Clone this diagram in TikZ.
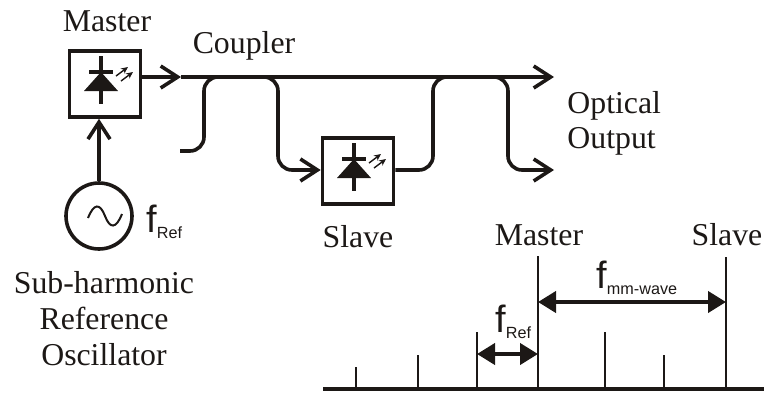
\documentclass[tikz,border=0pt]{standalone}
\usepackage{fontspec}
\setmainfont{Liberation Serif}
\newfontfamily\lblsans{Liberation Sans}
\usetikzlibrary{arrows.meta,positioning,calc}
\definecolor{ink}{RGB}{28,24,22}
\tikzset{
  lbl/.style={font=\fontsize{15.9}{18}\selectfont,text=ink,inner sep=0pt,anchor=base},
  frq/.style={text=ink,inner sep=0pt,anchor=base west},
  laser/.style={draw=ink,line width=1.8pt,minimum width=35.5pt,minimum height=33pt,inner sep=0pt},
  fib/.style={draw=ink,line width=1.8pt},
  barb/.style={fib,-{Straight Barb[length=8.5pt,width=11pt]}},
  tick/.style={draw=ink,line width=.85pt},
  span/.style={draw=ink,line width=2pt,{Triangle[length=9pt,width=10.5pt]}-{Triangle[length=9pt,width=10.5pt]}},
}
\newcommand{\ldiode}[1]{
  \begin{scope}[shift={(#1)}]
    \draw[ink,line width=1.6pt] (-4,-28) -- (-4,20);
    \draw[ink,line width=1.6pt] (-16,-12) -- (8,-12);
    \fill[ink] (-4,-12) -- (13,7) -- (-21,7) -- cycle;
    \draw[ink,line width=.7pt,-{Stealth[length=3.5pt,width=3.2pt]}] (11,-8) -- (23,-17);
    \draw[ink,line width=.7pt,-{Stealth[length=3.5pt,width=3.2pt]}] (16,-3) -- (28,-12);
  \end{scope}
}
\newcommand{\fsym}[1]{{\lblsans\fontsize{19}{20}\selectfont f\raisebox{-3.4pt}{\fontsize{8.1}{9}\selectfont #1}}}
\begin{document}
\begin{tikzpicture}[x=.5pt,y=-.5pt]
\useasboundingbox (0,0) rectangle (766,392);
% lasers
\node[laser] (master) at (105,84) {};
\node[laser] (slave) at (358,171) {};
\ldiode{master.center}
\ldiode{slave.center}
% oscillator
\node[circle,draw=ink,line width=1.8pt,minimum size=33pt,inner sep=0pt] (osc) at (99,216) {};
\draw[ink,line width=1pt] (88,218) .. controls (94,203) and (100,203) .. (105,216)
  .. controls (110,229) and (116,229) .. (122,214);
\draw[barb] (osc.north) -- (osc.north |- master.south);
% fibre paths
\coordinate (tipa) at (181,77);
\coordinate (outa) at (554,77);
\coordinate (outb) at (554,170);
\coordinate (stub) at (180,151);
\draw[barb] (master.east |- tipa) -- (tipa);
\draw[barb] (tipa) -- (outa);
\draw[fib,-{Straight Barb[length=8.5pt,width=11pt]},rounded corners=7pt] (stub) -- (204,151) -- (204,77) -- (278,77) -- (278,170) -- (slave.west |- 0,170);
\draw[fib,-{Straight Barb[length=8.5pt,width=11pt]},rounded corners=7pt] (slave.east |- 0,170) -- (433,170) -- (433,77) -- (508,77) -- (508,170) -- (outb);
% labels
\node[lbl] (mlbl) at (107,31) {Master};
\node[lbl] (clbl) at (244,53) {Coupler};
\node[lbl,anchor=base west] (olbl) at (567,113) {Optical};
\node[lbl,anchor=base west] (olblb) at (567,148) {Output};
\node[lbl] (slbl) at (358,247) {Slave};
\node[lbl] (sublbl) at (104,293) {Sub-harmonic};
\node[lbl] (reflbl) at (104,329) {Reference};
\node[lbl] (osclbl) at (104,365) {Oscillator};
\node[frq] (fosc) at (146,232) {\fsym{Ref}};
% spectrum
\coordinate (axa) at (323,389);
\coordinate (axb) at (764,389);
\draw[ink,line width=2.4pt] (axa) -- (axb);
\foreach \tx/\ty/\tn in {356/367/a,418/355/b,477/332/c,538/256/m,605/332/d,664/355/e,726/257/s}
  \draw[tick] (\tx,389) -- (\tx,\ty) coordinate (t\tn);
\node[lbl] (mspec) at (539,245) {Master};
\node[lbl] (sspec) at (727,245) {Slave};
\draw[span] (tc |- 0,354) -- (tm |- 0,354);
\draw[span] (tm |- 0,302) -- (ts |- 0,302);
\node[frq] (fref) at (495,332) {\fsym{Ref}};
\node[frq] (fmm) at (596,288) {\fsym{mm-wave}};
\end{tikzpicture}
\end{document}
